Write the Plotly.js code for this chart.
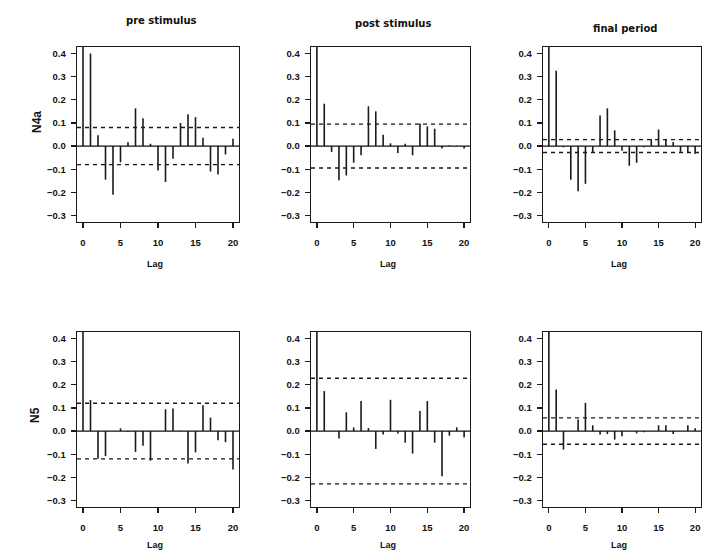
<!DOCTYPE html>
<html><head><meta charset="utf-8">
<script src="https://cdn.plot.ly/plotly-3.0.1.min.js"></script>
<style>html,body{margin:0;padding:0;background:#fff}</style>
</head><body><div id="chart" style="width:703px;height:558px"></div>
<script>
const lags = [0,1,2,3,4,5,6,7,8,9,10,11,12,13,14,15,16,17,18,19,20];
const colTitles = ["pre stimulus", "post stimulus", "final period"];
const rowLabels = ["N4a", "N5"];
const xTicks = [0, 5, 10, 15, 20];
const yTicks = [-0.3, -0.2, -0.1, 0.0, 0.1, 0.2, 0.3, 0.4];

const acfN4aPre   = [1, 0.40, 0.047, -0.145, -0.21, -0.07, 0.017, 0.163, 0.12, 0.01, -0.105, -0.155, -0.055, 0.10, 0.138, 0.125, 0.036, -0.11, -0.123, -0.036, 0.032];
const acfN4aPost  = [1, 0.183, -0.025, -0.148, -0.127, -0.072, -0.04, 0.172, 0.15, 0.049, 0.012, -0.03, 0.01, -0.04, 0.098, 0.085, 0.075, -0.01, 0.003, 0.002, -0.01];
const acfN4aFinal = [1, 0.325, -0.005, -0.145, -0.195, -0.163, -0.028, 0.132, 0.163, 0.068, -0.02, -0.085, -0.072, -0.005, 0.03, 0.072, 0.03, 0.018, -0.025, -0.027, -0.033];
const acfN5Pre    = [1, 0.134, -0.12, -0.108, 0.0, 0.012, -0.003, -0.09, -0.063, -0.128, 0.0, 0.094, 0.097, 0.002, -0.14, -0.092, 0.112, 0.058, -0.04, -0.048, -0.166];
const acfN5Post   = [1, 0.173, 0.0, -0.032, 0.081, 0.016, 0.13, 0.013, -0.077, -0.015, 0.135, -0.01, -0.05, -0.097, 0.087, 0.13, -0.05, -0.195, -0.02, 0.016, -0.028];
const acfN5Final  = [1, 0.18, -0.08, 0.0, 0.05, 0.122, 0.025, -0.015, -0.013, -0.037, -0.022, 0.0, -0.01, -0.005, 0.0, 0.025, 0.025, -0.013, 0.0, 0.025, 0.012];

const ciBounds = [0.08, 0.095, 0.028, 0.12, 0.228, 0.057];
const panels = [acfN4aPre, acfN4aPost, acfN4aFinal, acfN5Pre, acfN5Post, acfN5Final];

const W = 703, H = 558;
const colPx = [[77, 239], [311, 470], [543, 701]];
const rowPx = [[47, 222], [332, 507]];

const tickFont = {family: "Liberation Sans", size: 9.5, color: "#111", weight: 700};
const traces = [];
const shapes = [];
const annotations = [];
const layout = {
  width: W, height: H,
  margin: {l: 0, r: 0, t: 0, b: 0},
  paper_bgcolor: "#fff", plot_bgcolor: "#fff",
  showlegend: false,
  font: {family: "Liberation Sans", color: "#111"}
};

panels.forEach((vals, i) => {
  const r = Math.floor(i / 3), c = i % 3;
  const n = i + 1;
  const xa = "x" + (n === 1 ? "" : n), ya = "y" + (n === 1 ? "" : n);
  const xs = [], ys = [];
  lags.forEach((k, j) => { xs.push(k, k, null); ys.push(0, vals[j], null); });
  traces.push({type: "scatter", mode: "lines", x: xs, y: ys, xaxis: xa, yaxis: ya,
    line: {color: "#1a1a1a", width: 1.6}, hoverinfo: "skip"});
  const xd = [colPx[c][0] / W, colPx[c][1] / W];
  const yd = [1 - rowPx[r][1] / H, 1 - rowPx[r][0] / H];
  layout["xaxis" + (n === 1 ? "" : n)] = {
    domain: xd, anchor: ya, range: [-0.8, 20.8], tickvals: xTicks,
    ticks: "outside", ticklen: 5, tickwidth: 1.3, tickcolor: "#1a1a1a",
    showline: true, mirror: true, linecolor: "#1a1a1a", linewidth: 1.4,
    showgrid: false, zeroline: false, tickfont: tickFont, ticklabelstandoff: 6, fixedrange: true
  };
  layout["yaxis" + (n === 1 ? "" : n)] = {
    domain: yd, anchor: xa, range: [-0.328, 0.428], tickvals: yTicks, tickformat: ".1f",
    ticks: "outside", ticklen: 5, tickwidth: 1.3, tickcolor: "#1a1a1a",
    showline: true, mirror: true, linecolor: "#1a1a1a", linewidth: 1.4,
    showgrid: false, zeroline: false, tickfont: tickFont, ticklabelstandoff: 3, fixedrange: true
  };
  const ci = ciBounds[i];
  [ci, -ci].forEach(v => shapes.push({type: "line", xref: xa + " domain", yref: ya,
    x0: 0, x1: 1, y0: v, y1: v, line: {color: "#1a1a1a", width: 1.4, dash: "4px,4px"}}));
  shapes.push({type: "line", xref: xa + " domain", yref: ya, x0: 0, x1: 1, y0: 0, y1: 0,
    line: {color: "#111", width: 1.3}});
  annotations.push({text: "Lag", xref: "paper", yref: "paper",
    x: (colPx[c][0] + colPx[c][1]) / 2 / W - 0.004, y: 1 - (r === 0 ? 264 : 545) / H,
    showarrow: false, xanchor: "center", yanchor: "middle",
    font: {family: "Liberation Sans", size: 9, weight: 700, color: "#111"}});
});

const titlePos = [[161, 20], [393, 23], [625, 29]];
colTitles.forEach((t, c) => annotations.push({text: "<b>" + t + "</b>", xref: "paper", yref: "paper",
  x: titlePos[c][0] / W, y: 1 - titlePos[c][1] / H, showarrow: false, xanchor: "center", yanchor: "middle",
  font: {family: "DejaVu Sans", size: 10, color: "#111"}}));
const rowPos = [[36.5, 122.5], [35, 415]];
rowLabels.forEach((t, r) => annotations.push({text: "<b>" + t + "</b>", xref: "paper", yref: "paper",
  x: rowPos[r][0] / W, y: 1 - rowPos[r][1] / H, showarrow: false, textangle: -90,
  xanchor: "center", yanchor: "middle",
  font: {family: "Liberation Sans", size: 12, color: "#111"}}));

layout.shapes = shapes;
layout.annotations = annotations;
Plotly.newPlot("chart", traces, layout, {displayModeBar: false, staticPlot: true});
</script>
</body></html>
